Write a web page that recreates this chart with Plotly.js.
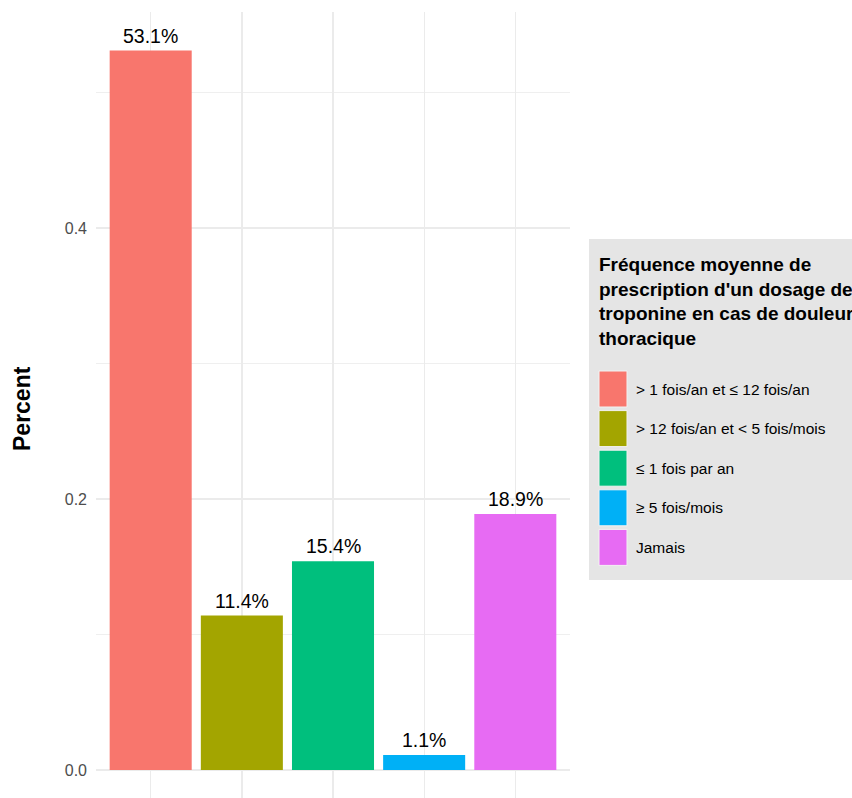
<!DOCTYPE html>
<html>
<head>
<meta charset="utf-8">
<script src="https://cdn.plot.ly/plotly-3.0.1.min.js"></script>
<style>html,body{margin:0;padding:0;background:#fff;}#chart{width:852px;height:798px;}</style>
</head>
<body>
<div id="chart"></div>
<script>
const categories = ['> 1 fois/an et ≤ 12 fois/an', '> 12 fois/an et < 5 fois/mois', '≤ 1 fois par an', '≥ 5 fois/mois', 'Jamais'];
const values = [0.531, 0.114, 0.154, 0.011, 0.189];
const valueLabels = ['53.1%', '11.4%', '15.4%', '1.1%', '18.9%'];
const colors = ['#F8766D', '#A3A500', '#00BF7D', '#00B0F6', '#E76BF3'];
const legendTitle = "Fréquence moyenne de<br>prescription d'un dosage de<br>troponine en cas de douleur<br>thoracique";
const yTitle = 'Percent';
const yTickVals = [0, 0.2, 0.4];
const yTickText = ['0.0', '0.2', '0.4'];

const W = 852, H = 798;
const M = {l: 96, r: 282, t: 12, b: 0};
const PW = W - M.l - M.r, PH = H - M.t - M.b;
const px = x => (x - M.l) / PW;
const py = y => (H - M.b - y) / PH;

const regular = 'Liberation Sans, Arial, sans-serif';

const xs = categories.map((c, i) => i + 1);

const trace = {
  type: 'bar',
  x: xs,
  y: values,
  width: 0.9,
  marker: {color: colors, line: {width: 0}},
  hoverinfo: 'skip',
  showlegend: false
};

const shapes = [{
  type: 'rect', xref: 'paper', yref: 'paper',
  x0: px(589), x1: px(860), y0: py(580), y1: py(239),
  fillcolor: '#e5e5e5', line: {width: 0}, layer: 'below'
}];
const annotations = [{
  xref: 'paper', yref: 'paper', x: px(597), y: py(252),
  xanchor: 'left', yanchor: 'top', align: 'left', showarrow: false,
  text: legendTitle,
  font: {family: regular, size: 19, color: '#000000', weight: 'bold'}
}, {
  xref: 'paper', yref: 'paper', x: px(22), y: py(409),
  xanchor: 'center', yanchor: 'middle', textangle: -90, showarrow: false,
  text: yTitle,
  font: {family: regular, size: 23, color: '#000000', weight: 'bold'}
}];
xs.forEach((x, i) => {
  annotations.push({
    xref: 'x', yref: 'y', x: x, y: values[i],
    xanchor: 'center', yanchor: 'bottom', yshift: 2, showarrow: false,
    text: valueLabels[i],
    font: {family: regular, size: 19.5, color: '#000000'}
  });
});
categories.forEach((c, i) => {
  const top = 371 + i * 39.6;
  shapes.push({
    type: 'rect', xref: 'paper', yref: 'paper',
    x0: px(599), x1: px(627), y0: py(top + 36), y1: py(top),
    fillcolor: colors[i], line: {width: 1, color: '#f2f2f2'}
  });
  annotations.push({
    xref: 'paper', yref: 'paper', x: px(634), y: py(top + 18),
    xanchor: 'left', yanchor: 'middle', showarrow: false,
    text: c, font: {family: regular, size: 15.5, color: '#000000'}
  });
});

const layout = {
  width: W, height: H,
  margin: M,
  paper_bgcolor: '#ffffff', plot_bgcolor: '#ffffff',
  showlegend: false,
  xaxis: {
    range: [0.4, 5.6], tickvals: xs, ticktext: xs.map(() => ''),
    showgrid: true, gridcolor: '#ebebeb', gridwidth: 1.3,
    zeroline: false, showline: false, ticks: '', fixedrange: true
  },
  yaxis: {
    range: [-28 / 1355, 758 / 1355],
    tickvals: yTickVals, ticktext: yTickText,
    showgrid: true, gridcolor: '#ebebeb', gridwidth: 1.3,
    minor: {tickvals: [0.1, 0.3, 0.5], showgrid: true, gridcolor: '#ebebeb', gridwidth: 0.8, ticks: ''},
    zeroline: false, showline: false, ticks: '',
    ticklabelstandoff: 8,
    tickfont: {family: regular, size: 16, color: '#4d4d4d'}
  },
  shapes: shapes,
  annotations: annotations
};

Plotly.newPlot('chart', [trace], layout, {displayModeBar: false, staticPlot: true});
</script>
</body>
</html>
